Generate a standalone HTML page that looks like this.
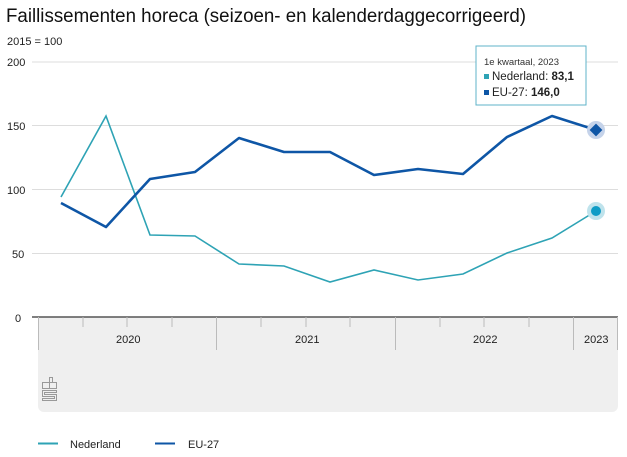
<!DOCTYPE html>
<html><head><meta charset="utf-8"><style>
body{margin:0;background:#fff;width:627px;height:452px;overflow:hidden;font-family:"Liberation Sans",sans-serif}
</style></head><body>
<svg width="627" height="452" xmlns="http://www.w3.org/2000/svg" font-family="Liberation Sans, sans-serif">
<text x="6" y="22" font-size="19" fill="#111" textLength="520" lengthAdjust="spacingAndGlyphs">Faillissementen horeca (seizoen- en kalenderdaggecorrigeerd)</text>
<text x="7" y="45" font-size="11" fill="#222">2015 = 100</text>
<g stroke="#ddd" stroke-width="1">
<line x1="32" y1="62" x2="618" y2="62"/><line x1="32" y1="125.5" x2="618" y2="125.5"/><line x1="32" y1="189.5" x2="618" y2="189.5"/><line x1="32" y1="253.5" x2="618" y2="253.5"/>
</g>
<g font-size="11" fill="#222"><text x="7" y="66">200</text><text x="7" y="130">150</text><text x="7" y="194">100</text><text x="12" y="258">50</text><text x="15" y="322">0</text></g>
<path d="M38,317 H618 V406 a6,6 0 0 1 -6,6 H44 a6,6 0 0 1 -6,-6 Z" fill="#efefef"/>
<line x1="32" y1="317" x2="618" y2="317" stroke="#555" stroke-width="1.5"/>
<g stroke="#bbb" stroke-width="1">
<line x1="38.5" y1="317" x2="38.5" y2="350"/><line x1="216.5" y1="317" x2="216.5" y2="350"/><line x1="395.5" y1="317" x2="395.5" y2="350"/><line x1="573.5" y1="317" x2="573.5" y2="350"/><line x1="617.5" y1="317" x2="617.5" y2="350"/>
<line x1="83" y1="317" x2="83" y2="327"/><line x1="127" y1="317" x2="127" y2="327"/><line x1="172" y1="317" x2="172" y2="327"/>
<line x1="261" y1="317" x2="261" y2="327"/><line x1="306" y1="317" x2="306" y2="327"/><line x1="350" y1="317" x2="350" y2="327"/>
<line x1="440" y1="317" x2="440" y2="327"/><line x1="484" y1="317" x2="484" y2="327"/><line x1="529" y1="317" x2="529" y2="327"/>
</g>
<g font-size="11" fill="#222"><text x="116" y="343">2020</text><text x="295" y="343">2021</text><text x="473" y="343">2022</text><text x="584" y="343">2023</text></g>
<g fill="none" stroke="#999" stroke-width="1"><rect x="42.5" y="382.5" width="7" height="6"/><rect x="49.5" y="382.5" width="7" height="6"/><rect x="49.5" y="377.5" width="3" height="5"/><path d="M42.5,390.5 h14 v2 h-12 v2 h12 v6 h-14 v-2 h12 v-2 h-12 z"/></g>
<polyline fill="none" stroke="#2ea3b5" stroke-width="1.6" points="61,197 106,116 150,235 195,236 239,264 284,266 330,282 374,270 418,280 463,274 507,253 552,238 596,211"/>
<polyline fill="none" stroke="#0e56a6" stroke-width="2.6" stroke-linejoin="round" points="61,203 106,227 150,179 195,172 239,138 284,152 330,152 374,175 418,169 463,174 507,137 552,116 596,130"/>
<circle cx="596" cy="211" r="9" fill="#bfe3ec"/><circle cx="596" cy="211" r="5" fill="#0e9cc6"/>
<circle cx="596" cy="130" r="9" fill="#c5d3ea"/><rect x="591.5" y="125.5" width="9" height="9" fill="#0e56a6" transform="rotate(45 596 130)"/>
<rect x="476" y="46" width="110" height="59" fill="#fff" stroke="#5fb3c8" stroke-width="1"/>
<text x="484" y="65" font-size="9.5" fill="#333">1e kwartaal, 2023</text>
<rect x="484" y="74" width="5" height="5" fill="#2ea3b5"/><text x="492" y="80" font-size="11.5" fill="#222">Nederland: <tspan font-weight="bold">83,1</tspan></text>
<rect x="484" y="90" width="5" height="5" fill="#0e56a6"/><text x="492" y="96" font-size="11.5" fill="#222">EU-27: <tspan font-weight="bold">146,0</tspan></text>
<line x1="38" y1="443.5" x2="58" y2="443.5" stroke="#2ea3b5" stroke-width="2"/><text x="70" y="448" font-size="11" fill="#222">Nederland</text>
<line x1="155" y1="443.5" x2="175" y2="443.5" stroke="#0e56a6" stroke-width="2"/><text x="188" y="448" font-size="11" fill="#222">EU-27</text>
</svg>
</body></html>
